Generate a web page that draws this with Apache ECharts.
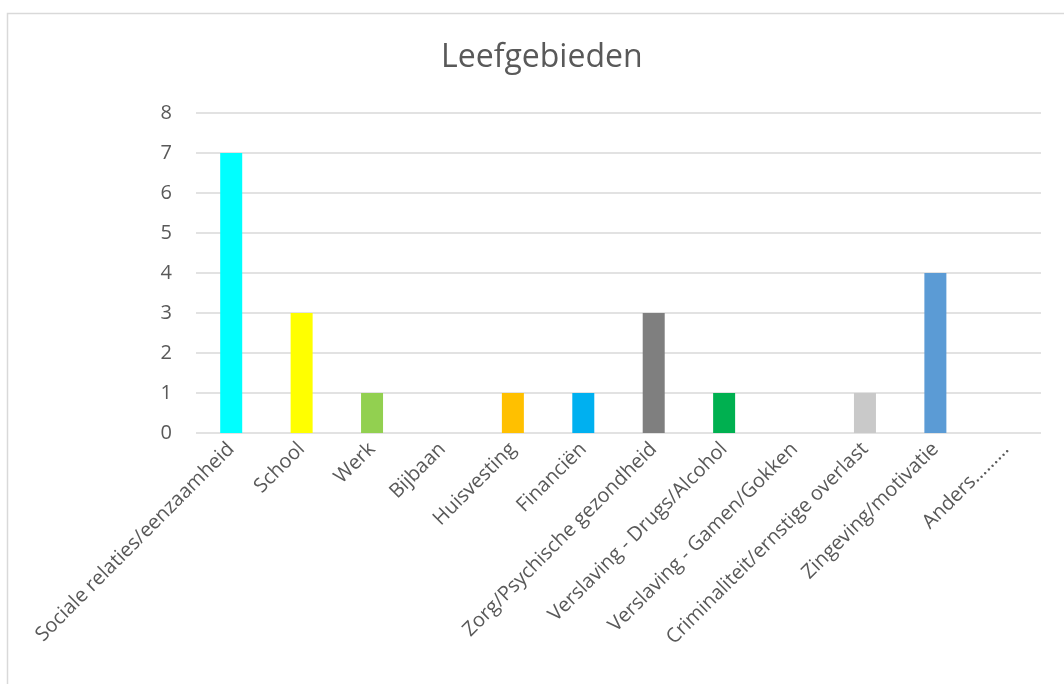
<!DOCTYPE html>
<html>
<head>
<meta charset="utf-8">
<script src="https://cdn.jsdelivr.net/npm/echarts@6/dist/echarts.min.js"></script>
<style>
html,body{margin:0;padding:0;background:#fff;}
#chart{width:1064px;height:684px;}
</style>
</head>
<body>
<div id="chart"></div>
<script>
const categories = ["Sociale relaties/eenzaamheid","School","Werk","Bijbaan","Huisvesting","Financiën","Zorg/Psychische gezondheid","Verslaving - Drugs/Alcohol","Verslaving - Gamen/Gokken","Criminaliteit/ernstige overlast","Zingeving/motivatie","Anders………"];
const values = [7,3,1,0,1,1,3,1,0,1,4,0];
const barColors = ["#00FFFF","#FFFF00","#92D050","#A5A5A5","#FFC000","#00B0F0","#7F7F7F","#00B050","#70AD47","#C9C9C9","#5B9BD5","#ED7D31"];
const yTicks = [0,1,2,3,4,5,6,7,8];

const chart = echarts.init(document.getElementById('chart'));
chart.setOption({
  animation:false,
  title:{text:"Leefgebieden",left:436,top:37,textStyle:{fontFamily:"Open Sans",fontWeight:'normal',fontSize:32,color:'#595959'}},
  graphic:[{type:'rect',shape:{x:7.5,y:13.5,width:1100,height:700},style:{fill:'none',stroke:'#d9d9d9',lineWidth:1.5}}],
  grid:{left:196,right:23,top:113,bottom:251},
  xAxis:{type:'category',data:categories,
    axisLine:{show:false},axisTick:{show:false},
    axisLabel:{interval:0,rotate:45,margin:13,fontFamily:"Open Sans",fontSize:20,color:'#595959'}},
  yAxis:{type:'value',min:0,max:8,interval:1,
    axisLine:{show:false},axisTick:{show:false},
    axisLabel:{margin:24,fontFamily:"Open Sans",fontSize:20,color:'#595959',formatter:v=>yTicks.includes(v)?String(v):''},
    splitLine:{lineStyle:{color:'#d9d9d9',width:1.5}}},
  series:[{type:'bar',barWidth:22,
    data:values.map((v,i)=>({value:v,itemStyle:{color:barColors[i]}}))}]
});
</script>
</body>
</html>
